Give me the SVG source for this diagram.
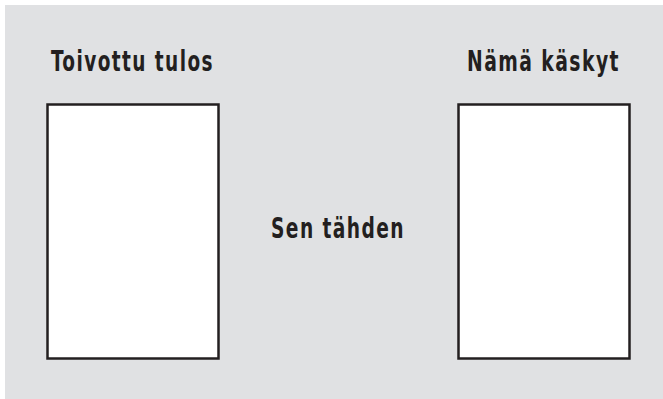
<svg xmlns="http://www.w3.org/2000/svg" width="663" height="399" viewBox="0 0 663 399">
<style>
.lbl{font-family:"DejaVu Sans Condensed","DejaVu Sans","Liberation Sans",sans-serif;font-weight:bold;font-stretch:condensed;font-size:29px;letter-spacing:2px;fill:#231f20;text-anchor:middle}
.box{fill:#ffffff;stroke:#231f20;stroke-width:2.5}
</style>
<rect x="0" y="0" width="663" height="399" fill="#ffffff"/>
<rect x="5" y="5" width="658" height="394" fill="#e0e1e3"/>
<g id="toivottu">
<rect class="box" x="47.5" y="104.5" width="171" height="254"/>
<text class="lbl" x="132.5" y="71" textLength="163" lengthAdjust="spacingAndGlyphs">Toivottu tulos</text>
</g>
<g id="namat">
<rect class="box" x="458.5" y="104.5" width="171" height="254"/>
<text class="lbl" x="543.5" y="71" textLength="153" lengthAdjust="spacingAndGlyphs">Nämä käskyt</text>
</g>
<g id="sen">
<text class="lbl" x="338" y="237.5" textLength="134" lengthAdjust="spacingAndGlyphs">Sen tähden</text>
</g>
<g id="connectors"></g>
</svg>
